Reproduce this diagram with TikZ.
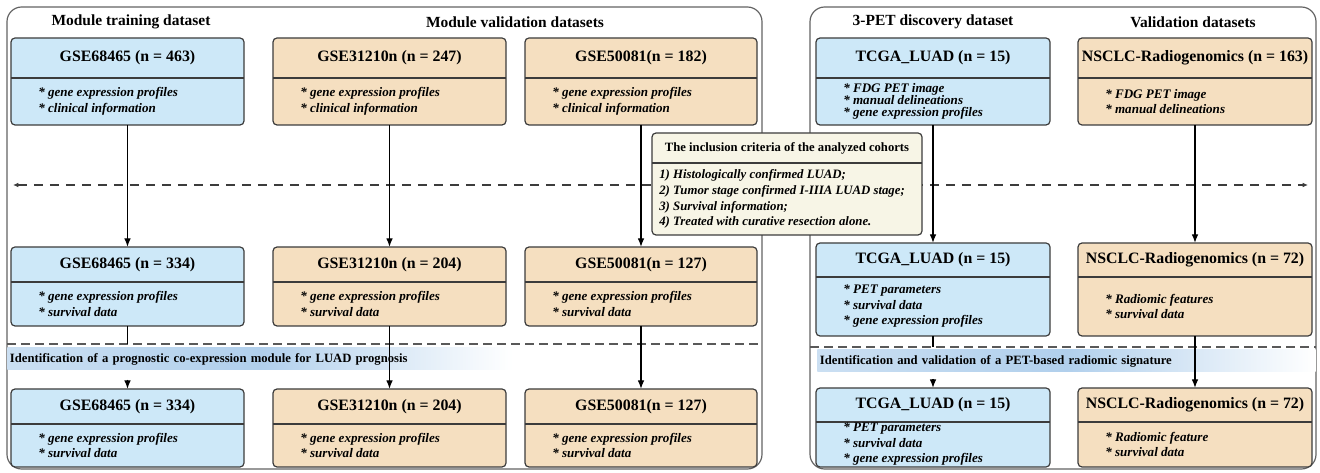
\documentclass[tikz,border=0pt]{standalone}
\usepackage{fontspec}
\setmainfont{Liberation Serif}
\usepackage{tikz}
\usetikzlibrary{arrows.meta}

\definecolor{boxblue}{RGB}{205,232,248}
\definecolor{boxtan}{RGB}{245,223,192}
\definecolor{critfill}{RGB}{247,245,230}
\definecolor{edgegray}{RGB}{60,60,60}
\definecolor{bandblue}{RGB}{168,202,234}

% name, colour, left, right, top, divider, bottom, title, items
\newcommand{\cohort}[9]{%
\node[cbox,fill=#2,minimum width={(#4-#3)*0.75pt},minimum height={(#7-#5)*0.75pt}] (#1) at ({(#3+#4)/2},{(#5+#7)/2}) {};
\draw[divline] (#3,#6) -- (#4,#6);
\node[ctitle] (#1t) at ({(#3+#4)/2},{(#5+#6)/2}) {#8};
\node[citems] (#1i) at ({#3+27},{(#6+#7)/2}) {#9};
}

\begin{document}
\begin{tikzpicture}
[x=0.75pt,y=-0.75pt,
cbox/.style={draw=edgegray,line width=0.9pt,rounded corners=3pt,inner sep=0pt,outer sep=0pt},
divline/.style={draw=edgegray,line width=0.9pt},
ctitle/.style={font=\fontsize{11.9}{14}\selectfont\bfseries},
citems/.style={anchor=west,align=left,inner sep=0pt,font=\fontsize{9.8}{11.6}\selectfont\bfseries\itshape},
head/.style={font=\fontsize{11.6}{13.8}\selectfont\bfseries},
panel/.style={draw=edgegray!80,line width=0.9pt,rounded corners=11pt},
dline/.style={draw=edgegray,line width=0.8pt,dash pattern=on 7pt off 5pt,{Latex[length=4pt,width=3.5pt]}-{Latex[length=4pt,width=3.5pt]}},
sepline/.style={draw=edgegray!85,line width=1.4pt,dash pattern=on 6.5pt off 4pt},
band/.style={anchor=west,inner xsep=2pt,inner ysep=0pt,minimum height={22*0.75pt},align=left,font=\fontsize{9.5}{11}\selectfont\bfseries},
arr/.style={draw=black,line width=1pt,-{Latex[length=6.5pt,width=5pt]}},
stem/.style={draw=black,line width=1pt}]
\useasboundingbox (0,0) rectangle (1320,473);

% panels
\draw[panel] (7,7) rectangle (762,469);
\draw[panel] (810,7) rectangle (1316,469);

\node[head] (h1) at (131,22) {Module training dataset};
\node[head] (h2) at (515,22) {Module validation datasets};
\node[head] (h3) at (933,22) {3-PET discovery dataset};
\node[head] (h4) at (1193,22) {Validation datasets};

% dashed separators
\coordinate (dl) at (13,185);
\coordinate (dr) at (1308,185);
\draw[dline] (dl) -- (dr);
\coordinate (s1w) at (7,344);
\coordinate (s1e) at (762,344);
\coordinate (s2w) at (810,347);
\coordinate (s2e) at (1316,347);
\draw[sepline] (s1w) -- (s1e);
\draw[sepline] (s2w) -- (s2e);

% shaded bands
\node[band,text width={500*0.75pt},left color=bandblue!60,right color=white,middle color=bandblue!90] (band1) at (7,359)
  {Identification of a prognostic co-expression module for LUAD prognosis};
\node[band,text width={493*0.75pt},left color=bandblue!60,right color=white,middle color=bandblue!90] (band2) at (817,361)
  {Identification and validation of a PET-based radiomic signature};

% first row
\cohort{a1}{boxblue}{11}{244}{38}{78}{125}{GSE68465 (n = 463)}{* gene expression profiles\\* clinical information}
\cohort{b1}{boxtan}{273}{506}{38}{78}{125}{GSE31210n (n = 247)}{* gene expression profiles\\* clinical information}
\cohort{c1}{boxtan}{525}{757}{38}{78}{125}{GSE50081(n = 182)}{* gene expression profiles\\* clinical information}
\cohort{d1}{boxblue}{816}{1050}{38}{78}{125}{TCGA\_LUAD (n = 15)}{* FDG PET image\\[-2.8pt]* manual delineations\\[-2.8pt]* gene expression profiles}
\cohort{e1}{boxtan}{1078}{1312}{38}{78}{125}{NSCLC-Radiogenomics (n = 163)}{* FDG PET image\\* manual delineations}

% second row
\cohort{a2}{boxblue}{11}{244}{247}{282}{326}{GSE68465 (n = 334)}{* gene expression profiles\\* survival data}
\cohort{b2}{boxtan}{273}{506}{247}{282}{326}{GSE31210n (n = 204)}{* gene expression profiles\\* survival data}
\cohort{c2}{boxtan}{525}{757}{247}{282}{326}{GSE50081(n = 127)}{* gene expression profiles\\* survival data}
\cohort{d2}{boxblue}{816}{1050}{243}{277}{336}{TCGA\_LUAD (n = 15)}{* PET parameters\\* survival data\\* gene expression profiles}
\cohort{e2}{boxtan}{1078}{1312}{243}{277}{336}{NSCLC-Radiogenomics (n = 72)}{* Radiomic features\\* survival data}

% third row
\cohort{a3}{boxblue}{11}{244}{389}{424}{467}{GSE68465 (n = 334)}{* gene expression profiles\\* survival data}
\cohort{b3}{boxtan}{273}{506}{389}{424}{467}{GSE31210n (n = 204)}{* gene expression profiles\\* survival data}
\cohort{c3}{boxtan}{525}{757}{389}{424}{467}{GSE50081(n = 127)}{* gene expression profiles\\* survival data}
\cohort{d3}{boxblue}{816}{1050}{388}{422}{467}{TCGA\_LUAD (n = 15)}{* PET parameters\\* survival data\\* gene expression profiles}
\cohort{e3}{boxtan}{1078}{1312}{388}{422}{467}{NSCLC-Radiogenomics (n = 72)}{* Radiomic feature\\* survival data}

% connectors
\path[arr] (a1) edge (a2) (b1) edge (b2) (c1) edge (c2) (d1) edge (d2) (e1) edge (e2);
\path[arr] (b2) edge (b3) (c2) edge (c3) (e2) edge (e3);
\draw[stem] (a2) -- (a2 |- s1w);
\draw[stem] (d2) -- (d2 |- s2w);
\draw[arr,shorten <=7pt] (a3 |- band1.south) -- (a3);
\draw[arr,shorten <=5pt] (d3 |- band2.south) -- (d3);

% inclusion criteria
\node[cbox,fill=critfill,minimum width={270*0.75pt},minimum height={102*0.75pt}] (crit) at (787,184) {};
\draw[divline] (652,163) -- (922,163);
\node[ctitle,font=\fontsize{9.5}{11}\selectfont\bfseries] (critt) at (787,148) {The inclusion criteria of the analyzed cohorts};
\node[citems,font=\fontsize{9.6}{11.8}\selectfont\bfseries\itshape] (criti) at (659,199)
  {1) Histologically confirmed LUAD;\\2) Tumor stage confirmed I-IIIA LUAD stage;\\3) Survival information;\\4) Treated with curative resection alone.};
\end{tikzpicture}
\end{document}
